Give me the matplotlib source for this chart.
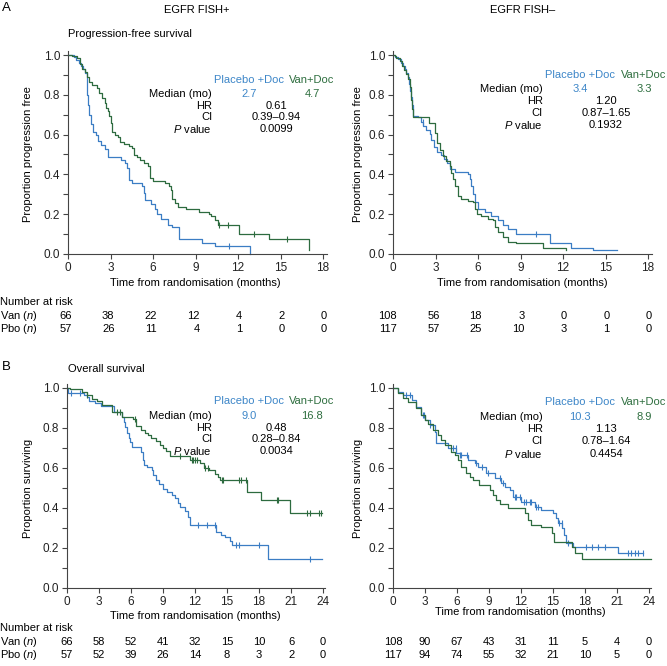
import numpy as np
import matplotlib
matplotlib.use("Agg")
from matplotlib import pyplot as plt
from matplotlib import transforms

plt.rcParams['font.family'] = ['Liberation Sans', 'DejaVu Sans']
plt.rcParams['mathtext.fontset'] = 'custom'
plt.rcParams['mathtext.rm'] = 'Liberation Sans'
plt.rcParams['mathtext.it'] = 'Liberation Sans:italic'

# ---- data ----
# A: progression-free survival, EGFR FISH+
pfs_pos_pbo_t = [0, 0.4, 0.56, 0.75, 0.92, 1.06, 1.22, 1.32, 1.34, 1.39, 1.51, 1.6, 1.74, 1.98, 2.12, 2.35, 2.59, 2.82,
                 3.76, 4.0, 4.19, 4.28, 4.52, 5.22, 5.34, 5.46, 5.88, 6.12, 6.28, 6.59, 7.06, 7.34, 7.86, 9.46, 10.35, 12.85]
pfs_pos_pbo_s = [1.0, 0.988, 0.977, 0.961, 0.944, 0.928, 0.911, 0.849, 0.8, 0.75, 0.701, 0.652, 0.611, 0.599, 0.57, 0.55, 0.529, 0.488,
                 0.471, 0.455, 0.43, 0.373, 0.356, 0.343, 0.307, 0.271, 0.25, 0.225, 0.2, 0.176, 0.146, 0.135, 0.077, 0.057, 0.039, 0.0]
pfs_pos_pbo_c = [11.34]
pfs_pos_van_t = [0, 0.28, 0.64, 0.87, 0.99, 1.22, 1.34, 1.46, 1.69, 2.05, 2.16, 2.4, 2.64, 2.7, 2.82, 2.92, 3.04, 3.1, 3.34, 3.53,
                 3.69, 3.93, 4.28, 4.52, 4.64, 4.87, 5.1, 5.34, 5.65, 5.81, 5.98, 6.87, 7.1, 7.3, 7.34, 7.53, 7.76, 8.33, 9.22, 9.93,
                 10.1, 10.4, 10.56, 12.05, 14.16, 16.99]
pfs_pos_van_s = [1.0, 0.993, 0.984, 0.956, 0.931, 0.915, 0.89, 0.865, 0.849, 0.832, 0.808, 0.783, 0.759, 0.734, 0.718, 0.693, 0.66, 0.611, 0.599, 0.586,
                 0.562, 0.553, 0.545, 0.534, 0.496, 0.488, 0.471, 0.455, 0.442, 0.381, 0.369, 0.356, 0.343, 0.323, 0.274, 0.255, 0.238, 0.225, 0.212, 0.2,
                 0.189, 0.172, 0.146, 0.102, 0.077, 0.02]
pfs_pos_van_c = [10.64, 11.27, 13.1, 15.46]

# A: progression-free survival, EGFR FISH-
pfs_neg_pbo_t = [0, 0.16, 0.35, 0.54, 0.71, 0.82, 0.94, 1.06, 1.13, 1.2, 1.29, 1.36, 1.44, 1.76, 2.0, 2.12, 2.35, 2.59, 2.7, 2.89,
                 3.13, 3.36, 3.6, 3.84, 4.0, 4.35, 5.29, 5.41, 5.53, 5.65, 5.81, 6.0, 6.47, 6.94, 7.41, 7.76, 8.12, 8.7, 11.06, 12.59,
                 14.14, 15.8]
pfs_neg_pbo_s = [1.0, 0.99, 0.978, 0.962, 0.945, 0.929, 0.912, 0.888, 0.855, 0.821, 0.788, 0.747, 0.693, 0.686, 0.664, 0.643, 0.623, 0.603, 0.574, 0.54,
                 0.511, 0.499, 0.478, 0.455, 0.428, 0.412, 0.4, 0.375, 0.342, 0.301, 0.26, 0.226, 0.21, 0.19, 0.169, 0.147, 0.127, 0.098, 0.055, 0.031,
                 0.02, 0.02]
pfs_neg_pbo_c = [2.1, 10.1]
pfs_neg_van_t = [0, 0.12, 0.24, 0.47, 0.64, 0.78, 0.94, 1.06, 1.18, 1.29, 1.36, 1.44, 2.55, 2.94, 3.13, 3.29, 3.53, 3.76, 4.0, 4.12,
                 4.24, 4.35, 4.59, 4.82, 5.29, 5.65, 5.81, 5.95, 6.24, 6.71, 7.06, 7.22, 7.41, 7.76, 8.12, 8.7, 10.6, 12.2]
pfs_neg_van_s = [1.0, 0.995, 0.987, 0.97, 0.945, 0.924, 0.907, 0.879, 0.838, 0.772, 0.73, 0.69, 0.656, 0.607, 0.557, 0.524, 0.491, 0.466, 0.441, 0.408,
                 0.375, 0.342, 0.293, 0.276, 0.268, 0.26, 0.226, 0.202, 0.19, 0.177, 0.169, 0.136, 0.111, 0.086, 0.061, 0.054, 0.029, 0.02]
pfs_neg_van_c = []

# B: overall survival, EGFR FISH+
os_pos_pbo_t = [0, 0.1, 1.56, 1.88, 2.03, 2.6, 3.2, 4.4, 5.2, 5.34, 5.47, 5.63, 5.78, 5.94, 6.1, 6.97, 7.1, 7.25, 7.5, 7.97,
                8.1, 8.34, 8.6, 9.0, 9.38, 9.8, 10.16, 10.4, 10.6, 11.1, 11.34, 11.56, 14.0, 14.4, 14.84, 15.3, 15.47, 18.84, 23.9]
os_pos_pbo_s = [1.0, 0.977, 0.965, 0.953, 0.937, 0.925, 0.912, 0.88, 0.857, 0.832, 0.807, 0.773, 0.748, 0.73, 0.707, 0.682, 0.64, 0.615, 0.603, 0.59,
                0.565, 0.54, 0.52, 0.497, 0.482, 0.465, 0.448, 0.423, 0.407, 0.387, 0.357, 0.315, 0.282, 0.265, 0.253, 0.237, 0.215, 0.143, 0.143]
os_pos_pbo_c = [0.4, 1.2, 12.3, 13.1, 13.9, 15.8, 16.1, 18.0, 22.8]
os_pos_van_t = [0, 0.3, 1.4, 1.9, 2.3, 2.8, 3.3, 4.2, 5.2, 6.2, 6.5, 6.9, 7.3, 7.6, 7.9, 8.3, 8.7, 9.0, 9.3, 9.7,
                11.56, 12.5, 12.8, 13.3, 13.9, 14.15, 14.3, 16.9, 18.2, 20.9, 23.9]
os_pos_van_s = [1.0, 0.995, 0.98, 0.965, 0.945, 0.935, 0.915, 0.88, 0.855, 0.845, 0.81, 0.79, 0.775, 0.765, 0.75, 0.735, 0.715, 0.70, 0.685, 0.66,
                0.64, 0.623, 0.598, 0.59, 0.57, 0.553, 0.54, 0.48, 0.44, 0.377, 0.377]
os_pos_van_c = [1.9, 4.65, 4.97, 6.37, 10.6, 11.7, 11.85, 12.0, 12.2, 12.9, 13.2, 14.5, 14.65, 16.1, 16.3, 16.8,
                19.65, 19.8, 22.5, 22.75, 23.6, 23.85]

# B: overall survival, EGFR FISH-
os_neg_pbo_t = [0, 0.47, 0.94, 1.78, 2.19, 2.66, 2.97, 3.44, 3.9, 4.06, 5.16, 5.94, 6.25, 7.03, 7.66, 7.97, 8.75, 9.53, 10.16, 10.47,
                10.94, 11.25, 12.03, 13.3, 13.9, 15.0, 15.3, 15.47, 15.84, 16.0, 16.2, 16.9, 21.1, 23.45]
os_neg_pbo_s = [1.0, 0.982, 0.965, 0.94, 0.907, 0.865, 0.84, 0.815, 0.782, 0.723, 0.698, 0.673, 0.665, 0.64, 0.623, 0.607, 0.577, 0.548, 0.525, 0.505,
                0.49, 0.457, 0.432, 0.407, 0.39, 0.373, 0.348, 0.323, 0.298, 0.265, 0.223, 0.207, 0.173, 0.173]
os_neg_pbo_c = [1.25, 1.56, 2.81, 2.9, 3.44, 5.6, 5.9, 6.25, 6.4, 6.9, 7.8, 8.3, 8.9, 10.0, 10.3, 11.4, 11.56, 11.9,
                12.3, 12.5, 12.8, 12.97, 13.4, 13.6, 15.6, 15.8, 16.4, 18.1, 18.66, 19.2, 19.9, 22.0, 22.3, 22.66, 22.97, 23.44]
os_neg_van_t = [0, 0.47, 0.94, 1.4, 2.19, 2.66, 2.97, 3.28, 3.75, 4.2, 4.5, 4.84, 5.47, 5.78, 6.1, 6.4, 6.88, 7.19, 7.5, 8.1,
                9.06, 9.38, 9.69, 10.0, 10.78, 12.4, 12.66, 12.9, 13.9, 14.9, 15.06, 16.8, 17.06, 17.7, 24.2]
os_neg_van_s = [1.0, 0.973, 0.948, 0.932, 0.898, 0.865, 0.84, 0.82, 0.79, 0.765, 0.74, 0.715, 0.682, 0.665, 0.64, 0.607, 0.573, 0.557, 0.54, 0.515,
                0.49, 0.465, 0.44, 0.42, 0.398, 0.373, 0.34, 0.315, 0.307, 0.273, 0.232, 0.207, 0.177, 0.143, 0.143]
os_neg_van_c = []

# stats boxes
stats_pfs_pos = ['2.7', '4.7', '0.61', '0.39\u20130.94', '0.0099']
stats_pfs_neg = ['3.4', '3.3', '1.20', '0.87\u20131.65', '0.1932']
stats_os_pos = ['9.0', '16.8', '0.48', '0.28\u20130.84', '0.0034']
stats_os_neg = ['10.3', '8.9', '1.13', '0.78\u20131.64', '0.4454']

# numbers at risk
pfs_risk_t = [0, 3, 6, 9, 12, 15, 18]
pfs_pos_van_n = [66, 38, 22, 12, 4, 2, 0]
pfs_pos_pbo_n = [57, 26, 11, 4, 1, 0, 0]
pfs_neg_van_n = [108, 56, 18, 3, 0, 0, 0]
pfs_neg_pbo_n = [117, 57, 25, 10, 3, 1, 0]
os_risk_t = [0, 3, 6, 9, 12, 15, 18, 21, 24]
os_pos_van_n = [66, 58, 52, 41, 32, 15, 10, 6, 0]
os_pos_pbo_n = [57, 52, 39, 26, 14, 8, 3, 2, 0]
os_neg_van_n = [108, 90, 67, 43, 31, 11, 5, 4, 0]
os_neg_pbo_n = [117, 94, 74, 55, 32, 21, 10, 5, 0]

BLUE = '#3b7dc4'
GREEN = '#2d6b3f'
BLUE_T = '#3d86c8'
GREEN_T = '#2e6e3f'
AXC = '#444444'
FS = 8.0
W, H = 667, 666

fig = plt.figure(figsize=(6.67, 6.66), dpi=100)


def fx(px):
    return px / W


def fy(py):
    return 1 - py / H


def make_axes(left, zero_y, ppx, xmax, ppy, xticks):
    ax = fig.add_axes([fx(left), fy(zero_y), xmax * ppx / W, 1.02 * ppy / H])
    ax.set_xlim(0, xmax)
    ax.set_ylim(0, 1.02)
    for s in ['top', 'right']:
        ax.spines[s].set_visible(False)
    for s in ['left', 'bottom']:
        ax.spines[s].set_color(AXC)
        ax.spines[s].set_linewidth(0.8)
    ax.set_xticks(xticks)
    ax.set_yticks([0, 0.2, 0.4, 0.6, 0.8, 1.0])
    ax.set_yticklabels(['0.0', '0.2', '0.4', '0.6', '0.8', '1.0'])
    ax.set_yticks(np.arange(0.1, 1.0, 0.2), minor=True)
    ax.tick_params(which='both', length=3.5, width=0.8, color=AXC, labelsize=8.5, pad=2, labelcolor='#222222')
    return ax


def km(ax, t, s, cens, color):
    ax.step(t, s, where='post', color=color, lw=0.9, clip_on=False)
    if cens:
        idx = np.searchsorted(t, cens, side='right') - 1
        ax.plot(cens, np.array(s)[idx], ls='none', marker='|', ms=4.5, mew=0.8, color=color, clip_on=False)


def stats(xr, xb, xg, xc, y_head, y0, dy, vals):
    fig.text(fx(xb), fy(y_head), 'Placebo +Doc', color=BLUE_T, fontsize=8.0, ha='center', va='center')
    fig.text(fx(xg), fy(y_head), 'Van+Doc', color=GREEN_T, fontsize=8.0, ha='center', va='center')
    fig.text(fx(xr), fy(y0), 'Median (mo)', fontsize=FS, ha='right', va='center')
    fig.text(fx(xb), fy(y0), vals[0], color=BLUE_T, fontsize=FS, ha='center', va='center')
    fig.text(fx(xg), fy(y0), vals[1], color=GREEN_T, fontsize=FS, ha='center', va='center')
    for i, lab in enumerate(['HR', 'CI', '$P$ value']):
        yy = y0 + dy * (i + 1)
        fig.text(fx(xr), fy(yy), lab, fontsize=FS, ha='right', va='center')
        fig.text(fx(xc), fy(yy), vals[i + 2], fontsize=FS, ha='center', va='center')


def risk(ax, times, counts, y_px, ha, dx):
    tr = transforms.blended_transform_factory(ax.transData, fig.transFigure)
    tr = transforms.offset_copy(tr, fig=fig, x=dx, y=0, units='dots')
    for t, n in zip(times, counts):
        ax.text(t, fy(y_px), str(n), transform=tr, ha=ha, va='center', fontsize=FS, clip_on=False)


# panel A
ax1 = make_axes(68, 254, 14.17, 18.25, 199, pfs_risk_t)
km(ax1, pfs_pos_pbo_t, pfs_pos_pbo_s, pfs_pos_pbo_c, BLUE)
km(ax1, pfs_pos_van_t, pfs_pos_van_s, pfs_pos_van_c, GREEN)
ax2 = make_axes(393, 254, 14.17, 18.25, 199, pfs_risk_t)
km(ax2, pfs_neg_pbo_t, pfs_neg_pbo_s, pfs_neg_pbo_c, BLUE)
km(ax2, pfs_neg_van_t, pfs_neg_van_s, pfs_neg_van_c, GREEN)

# panel B
ax3 = make_axes(67, 588, 10.67, 24.2, 200, os_risk_t)
km(ax3, os_pos_pbo_t, os_pos_pbo_s, os_pos_pbo_c, BLUE)
km(ax3, os_pos_van_t, os_pos_van_s, os_pos_van_c, GREEN)
ax4 = make_axes(393, 588, 10.67, 24.2, 200, os_risk_t)
km(ax4, os_neg_pbo_t, os_neg_pbo_s, os_neg_pbo_c, BLUE)
km(ax4, os_neg_van_t, os_neg_van_s, os_neg_van_c, GREEN)

# headings and axis labels
fig.text(fx(2), fy(8), 'A', fontsize=9.5, ha='left', va='center')
fig.text(fx(197), fy(10), 'EGFR FISH+', fontsize=FS, ha='center', va='center')
fig.text(fx(523), fy(10), 'EGFR FISH\u2013', fontsize=FS, ha='center', va='center')
fig.text(fx(68), fy(34), 'Progression-free survival', fontsize=FS, ha='left', va='center')
fig.text(fx(2), fy(367), 'B', fontsize=9.5, ha='left', va='center')
fig.text(fx(68), fy(369), 'Overall survival', fontsize=FS, ha='left', va='center')

for x in (28, 358):
    fig.text(fx(x), fy(154), 'Proportion progression free', fontsize=FS, rotation=90, ha='center', va='center')
    fig.text(fx(x), fy(488), 'Proportion surviving', fontsize=FS, rotation=90, ha='center', va='center')
for x, y in ((195, 283), (522, 283), (195, 616), (520, 612)):
    fig.text(fx(x), fy(y), 'Time from randomisation (months)', fontsize=FS, ha='center', va='center')

# stats text
stats(212, 249, 312, 276, 80, 94, 11.7, stats_pfs_pos)
stats(543, 580, 644, 606, 75, 89, 12, stats_pfs_neg)
stats(212, 249, 312, 276, 401, 416, 11.7, stats_os_pos)
stats(543, 580, 644, 606, 402, 417, 12.2, stats_os_neg)

# numbers at risk
for yb in (302, 628):
    fig.text(0, fy(yb), 'Number at risk', fontsize=FS, ha='left', va='center')
    fig.text(0, fy(yb + 14), 'Van ($n$)', fontsize=FS, ha='left', va='center')
    fig.text(0, fy(yb + 26.5), 'Pbo ($n$)', fontsize=FS, ha='left', va='center')

risk(ax1, pfs_risk_t, pfs_pos_van_n, 316, 'right', 4)
risk(ax1, pfs_risk_t, pfs_pos_pbo_n, 328.5, 'right', 4)
risk(ax2, pfs_risk_t, pfs_neg_van_n, 316, 'right', 4)
risk(ax2, pfs_risk_t, pfs_neg_pbo_n, 328.5, 'right', 4)
risk(ax3, os_risk_t, os_pos_van_n, 642, 'center', 0)
risk(ax3, os_risk_t, os_pos_pbo_n, 654.5, 'center', 0)
risk(ax4, os_risk_t, os_neg_van_n, 642, 'center', 0)
risk(ax4, os_risk_t, os_neg_pbo_n, 655, 'center', 0)

fig.savefig('out.png', dpi=100)
